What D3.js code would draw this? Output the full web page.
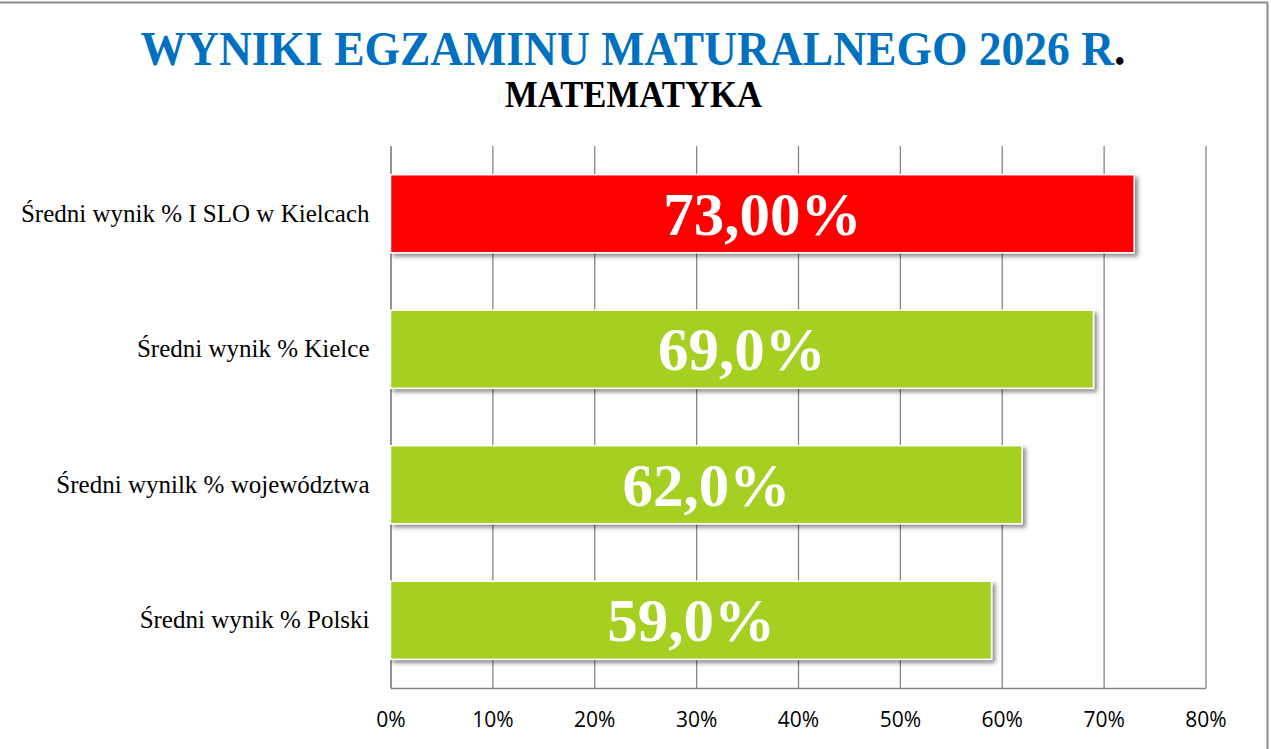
<!DOCTYPE html>
<html>
<head>
<meta charset="utf-8">
<script src="https://cdn.jsdelivr.net/npm/d3@7"></script>
<style>
  body { margin:0; background:#fff; }
  svg { display:block; }
</style>
</head>
<body>
<svg width="1271" height="749"></svg>
<script>
// dane z wykresu
const categories = [
  "Średni wynik % I SLO w Kielcach",
  "Średni wynik % Kielce",
  "Średni wynilk % województwa",
  "Średni wynik % Polski"
];
const values = [0.73, 0.69, 0.62, 0.59];
const valueLabels = ["73,00%", "69,0%", "62,0%", "59,0%"];
const barColors = ["#FF0000", "#A5D022", "#A5D022", "#A5D022"];
const xTicks = [0, 0.1, 0.2, 0.3, 0.4, 0.5, 0.6, 0.7, 0.8];

const svg = d3.select("svg");

// ramka (fragment arkusza)
svg.append("line").attr("x1",0).attr("x2",1268).attr("y1",2.5).attr("y2",2.5)
  .attr("stroke","#8c8c8c").attr("stroke-width",2);
svg.append("line").attr("x1",1267.5).attr("x2",1267.5).attr("y1",2).attr("y2",749)
  .attr("stroke","#8c8c8c").attr("stroke-width",2);

const defs = svg.append("defs");
const f = defs.append("filter").attr("id","shadow")
  .attr("x","-5%").attr("y","-10%").attr("width","115%").attr("height","130%");
f.append("feDropShadow").attr("dx",3).attr("dy",3).attr("stdDeviation",2.2)
  .attr("flood-color","#000").attr("flood-opacity",0.45);

// tytul
const title = svg.append("text")
  .attr("x",633).attr("y",65)
  .attr("text-anchor","middle")
  .attr("textLength",985).attr("lengthAdjust","spacingAndGlyphs")
  .style("font-family","'Liberation Serif','Times New Roman',serif")
  .style("font-weight","bold")
  .style("font-size","49px")
  .attr("fill","#0070C0");
title.append("tspan").text("WYNIKI EGZAMINU MATURALNEGO 2026 R");
title.append("tspan").attr("fill","#000").text(".");

svg.append("text")
  .attr("x",633.5).attr("y",107)
  .attr("text-anchor","middle")
  .attr("textLength",257).attr("lengthAdjust","spacingAndGlyphs")
  .style("font-family","'Liberation Serif','Times New Roman',serif")
  .style("font-weight","bold")
  .style("font-size","37px")
  .attr("fill","#000")
  .text("MATEMATYKA");

const plotL = 390.5, plotR = 1205.5, plotT = 146, plotB = 688;

const x = d3.scaleLinear().domain([0, 0.8]).range([plotL, plotR]);
const y = d3.scaleBand().domain(categories).range([plotT, plotB])
  .paddingInner(0.424).paddingOuter(0.212);

// siatka pionowa
const grid = svg.append("g")
  .attr("transform",`translate(0,${plotB})`)
  .call(d3.axisBottom(x).tickValues(xTicks).tickSize(-(plotB-plotT)).tickFormat(""));
grid.select(".domain").remove();
grid.selectAll("line").attr("stroke","#868686").attr("stroke-width",1.3);

// os x
const xAxis = svg.append("g")
  .attr("transform",`translate(0,${plotB})`)
  .call(d3.axisBottom(x).tickValues(xTicks).tickSize(0).tickSizeOuter(0).tickPadding(24).tickFormat(d3.format(".0%")));
xAxis.select(".domain").attr("stroke","#868686").attr("stroke-width",1.3);
xAxis.selectAll("text")
  .style("font-family","'Open Sans','Liberation Sans',sans-serif")
  .style("font-size","21px")
  .attr("fill","#000");

// os y
const yAxis = svg.append("g")
  .attr("transform",`translate(${plotL},0)`)
  .call(d3.axisLeft(y).tickSize(0).tickSizeOuter(0).tickPadding(21));
yAxis.select(".domain").attr("stroke","#868686").attr("stroke-width",1.3);
yAxis.selectAll("text")
  .style("font-family","'Liberation Serif','Times New Roman',serif")
  .style("font-size","25px")
  .attr("fill","#000");

// slupki
const data = categories.map((c,i)=>({name:c, value:values[i], label:valueLabels[i], color:barColors[i]}));

svg.append("g").selectAll(".bar")
  .data(data)
  .enter()
  .append("rect")
  .classed("bar", true)
  .attr("x", x(0))
  .attr("y", d=>y(d.name))
  .attr("width", d=>x(d.value)-x(0))
  .attr("height", y.bandwidth())
  .attr("fill", d=>d.color)
  .attr("stroke","#fff")
  .attr("stroke-width",1.5)
  .attr("filter","url(#shadow)");

svg.append("g").selectAll(".lbl")
  .data(data)
  .enter()
  .append("text")
  .classed("lbl", true)
  .attr("x", d=>(x(0)+x(d.value))/2)
  .attr("y", d=>y(d.name)+y.bandwidth()/2+21)
  .attr("text-anchor","middle")
  .style("font-family","'Liberation Serif','Times New Roman',serif")
  .style("font-weight","bold")
  .style("font-size","61px")
  .attr("fill","#fff")
  .text(d=>d.label);
</script>
</body>
</html>
